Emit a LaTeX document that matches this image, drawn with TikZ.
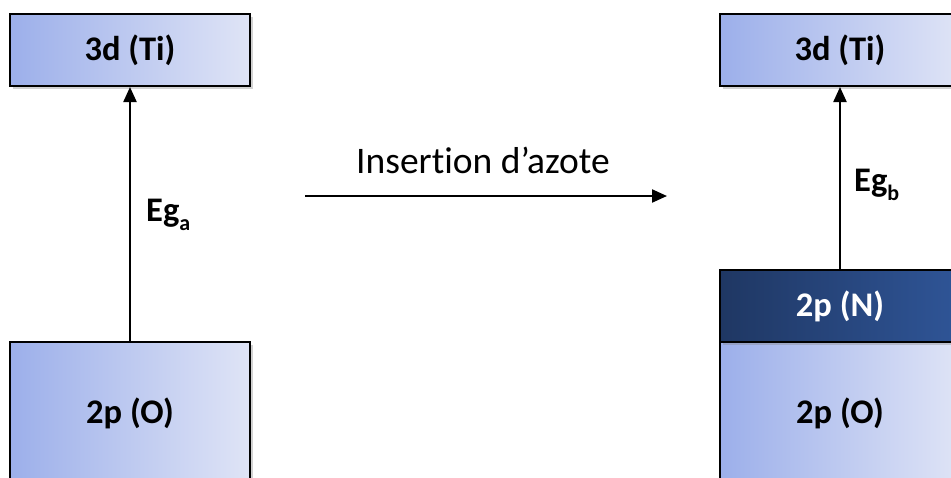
\documentclass[tikz,border=0pt]{standalone}
\usepackage{fontspec}
\setmainfont[Ligatures=NoCommon]{Carlito}
\usetikzlibrary{arrows.meta,shadows}
\definecolor{lbL}{HTML}{9CAFEA}
\definecolor{lbR}{HTML}{DFE4F6}
\definecolor{dbL}{HTML}{1F3763}
\definecolor{dbR}{HTML}{2F5597}
\tikzset{
  box/.style={draw=black, line width=2pt, left color=lbL, right color=lbR,
    minimum width=240pt, inner sep=0pt, font=\fontsize{34.5}{34.5}\selectfont\bfseries,
    drop shadow={shadow xshift=2.5pt, shadow yshift=-2.5pt, opacity=0.35, fill=gray}},
  darkbox/.style={box, left color=dbL, right color=dbR, text=white},
  arr/.style={line width=2.2pt, -{Triangle[length=15pt,width=13pt]}},
  lbl/.style={font=\fontsize{34.5}{34.5}\selectfont\bfseries, anchor=west, inner sep=0pt},
}
\newcommand{\subsc}[1]{\raisebox{-0.28em}{\fontsize{22}{22}\selectfont #1}}
\begin{document}
\begin{tikzpicture}[x=1pt,y=-1pt]
\useasboundingbox (0,0) rectangle (951,477);
\fill[white] (0,0) rectangle (951,477);
% left column
\node[box, minimum height=72pt] (ti1) at (130,50) {3d (Ti)};
\node[box, minimum height=142pt] (o1) at (130,413) {2p (O)};
\draw[arr] (o1.north) -- (ti1.south);
\node[lbl] (ega) at (146,215) {Eg\subsc{a}};
% middle
\node[font=\fontsize{37.5}{37.5}\selectfont, inner sep=0pt] (ins) at (483,160) {Insertion d’azote};
\coordinate (m1) at (305,196);
\coordinate (m2) at (667,196);
\draw[arr] (m1) -- (m2);
% right column
\node[box, minimum height=72pt] (ti2) at (840,50) {3d (Ti)};
\node[box, minimum height=142pt] (o2) at (840,413) {2p (O)};
\node[darkbox, minimum height=72pt] (n2) at (840,306) {2p (N)};
\draw[arr] (n2.north) -- (ti2.south);
\node[lbl] (egb) at (854,185) {Eg\subsc{b}};
\end{tikzpicture}
\end{document}
